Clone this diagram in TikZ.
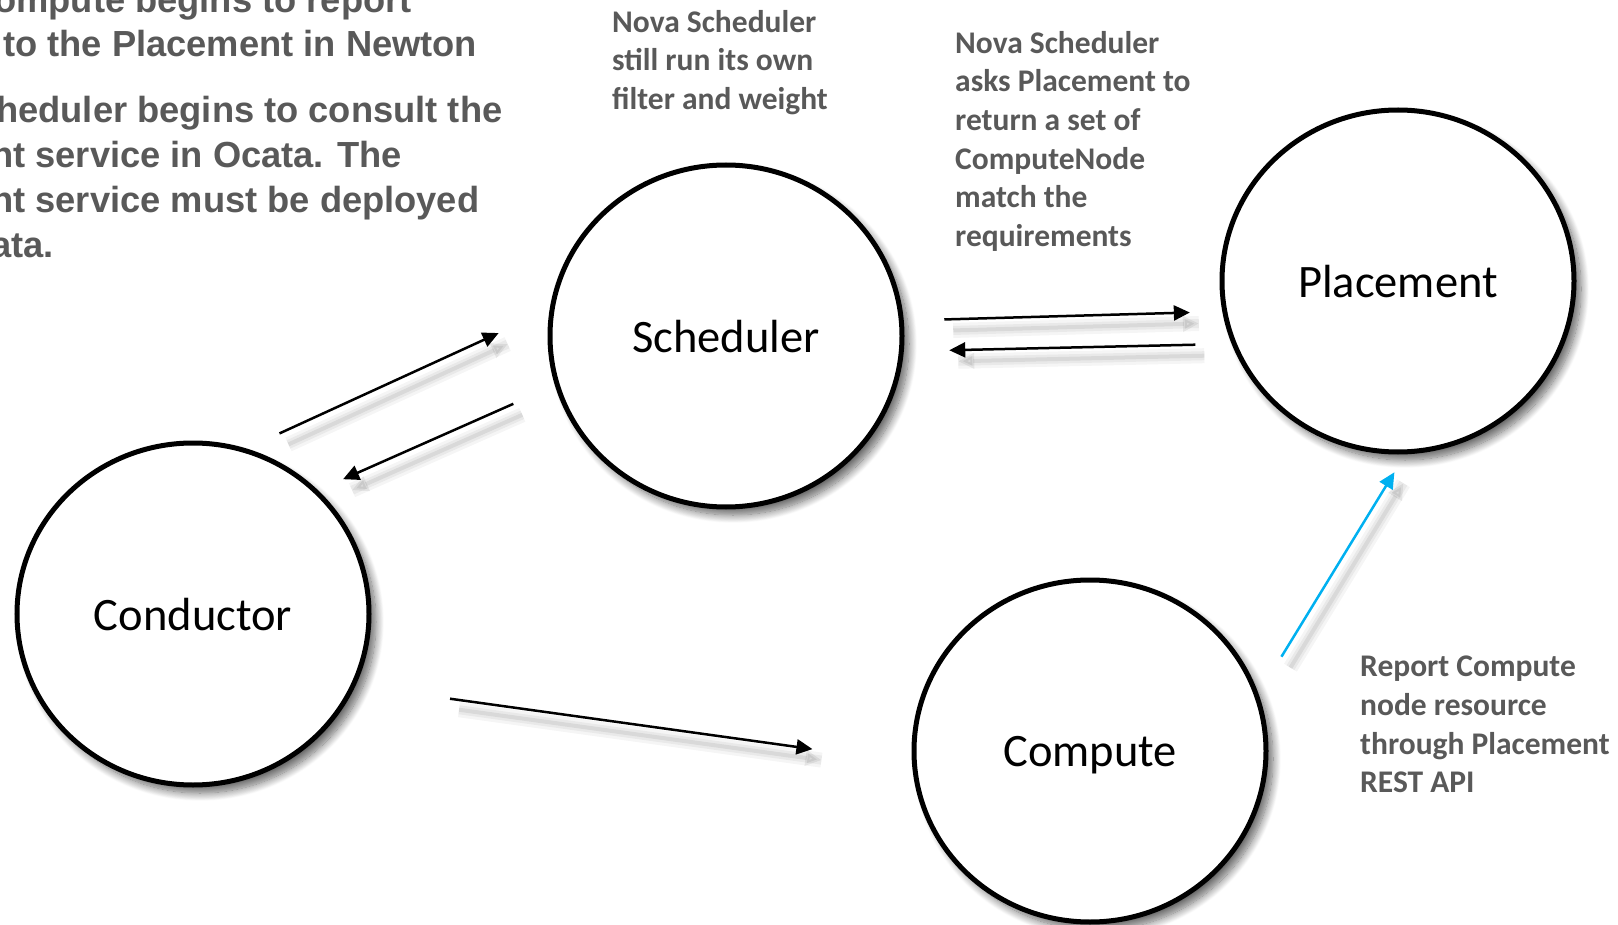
\documentclass[tikz,border=0pt]{standalone}
\usepackage{fontspec}
\setmainfont{Carlito}
\newfontfamily\arialfont{Liberation Sans}
\usetikzlibrary{arrows.meta,shapes.geometric,shadows.blur}

\definecolor{notegray}{HTML}{595959}
\definecolor{reportblue}{HTML}{00B0F0}

\tikzset{
  service/.style={ellipse, draw=black, line width=5pt, fill=white,
    minimum width=352pt, minimum height=342pt, inner sep=0pt, outer sep=0pt,
    text depth=0pt, font=\fontsize{46.5}{56}\selectfont,
    blur shadow={shadow xshift=7pt, shadow yshift=-8pt, shadow blur radius=8pt,
      shadow blur steps=14, shadow opacity=60}},
  note/.style={anchor=north west, inner sep=0pt, align=left, text=notegray,
    font=\bfseries\fontsize{31.5}{38.6}\selectfont},
  oldnote/.style={anchor=base west, inner sep=0pt, text=notegray,
    font=\arialfont\bfseries\fontsize{36.3}{45}\selectfont},
  flow/.style={-{Triangle[length=16pt,width=15pt]}, line width=2.5pt,
    preaction={draw=black, opacity=.04, line width=15pt, -,
      transform canvas={shift={(9pt,-11pt)}}},
    preaction={draw=black, opacity=.05, line width=9pt, -,
      transform canvas={shift={(9pt,-11pt)}}},
    preaction={draw=black, opacity=.07, line width=4pt,
      transform canvas={shift={(9pt,-11pt)}}}},
}

\begin{document}
\begin{tikzpicture}[x=1pt,y=-1pt]
        \useasboundingbox (0,0) rectangle (1618,925);
        \clip (0,0) rectangle (1618,925);

        % Old notes (cut at the left edge)
        \node at (-6,13) [oldnote] (newtonA) {ompute begins to report};
        \node at (3,57) [oldnote] (newtonB) {to the Placement in Newton};
        \node at (-4,123) [oldnote] (ocataA) {heduler begins to consult the};
        \node at (-9,168) [oldnote] (ocataB) {nt service in Ocata. The};
        \node at (-9,213) [oldnote] (ocataC) {nt service must be deployed};
        \node at (-9,258) [oldnote] (ocataD) {ata.};

        % Services
        \node at (726,336) [service] (sched) {Scheduler};
        \node at (1398,281) [service] (place) {Placement};
        \node at (193,614) [service] (cond) {Conductor};
        \node at (1090,751) [service] (comp) {Compute};

        % Notes
        \node at (612,10) [note] (filternote) {Nova Scheduler\\still run its own\\filter and weight};
        \node at (955,31) [note] (asknote) {Nova Scheduler\\asks Placement to\\return a set of\\ComputeNode\\match the\\requirements};
        \node at (1360,656) [note] (reportnote) {Report Compute\\node resource\\through Placement\\REST API};

        % Arrows
        \draw[flow, shorten <=40pt, shorten >=59pt] (cond.73.7) -- (sched.171.6);
        \draw[flow, shorten <=48pt, shorten >=30pt] (sched.196.6) -- (cond.45.3);
        \draw[flow, shorten <=43pt, shorten >=35pt] (sched.5.6) -- (place.190.1);
        \draw[flow, shorten <=39pt, shorten >=48pt] (place.201) -- (sched.355.1);
        \draw[flow, shorten <=98pt, shorten >=103pt] (cond.336.5) -- (comp.184.8);
        \draw[flow, draw=reportblue, fill=reportblue, shorten <=47pt, shorten >=24pt] (comp.18.5) -- (place.273.9);

    \end{tikzpicture}
\end{document}
